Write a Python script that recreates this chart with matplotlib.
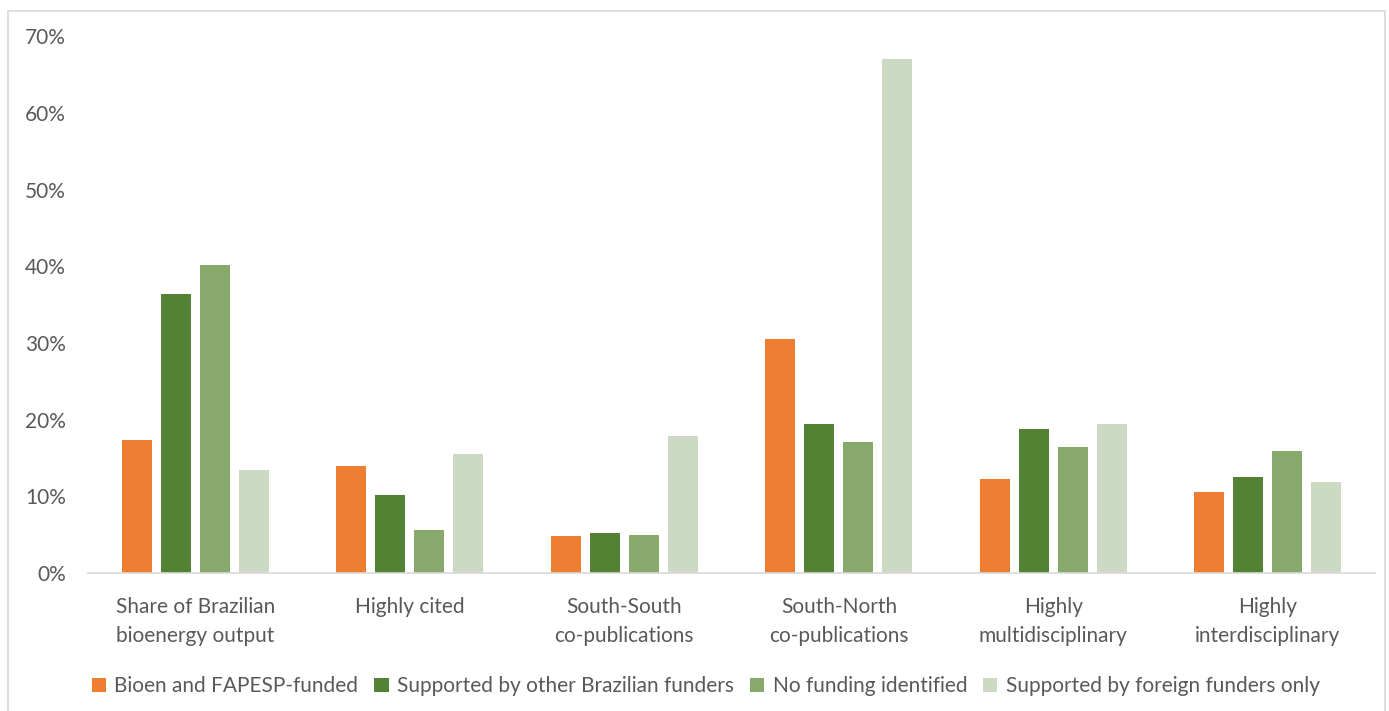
import numpy as np
import matplotlib.pyplot as plt
from matplotlib.patches import Rectangle
from matplotlib.ticker import PercentFormatter

plt.rcParams['font.family'] = ['Lato', 'DejaVu Sans']

categories = ["Share of Brazilian\nbioenergy output", "Highly cited",
              "South-South\nco-publications", "South-North\nco-publications",
              "Highly\nmultidisciplinary", "Highly\ninterdisciplinary"]
series_names = ["Bioen and FAPESP-funded", "Supported by other Brazilian funders",
                "No funding identified", "Supported by foreign funders only"]
bioen = [17.3, 13.9, 4.8, 30.5, 12.3, 10.6]
other_br = [36.4, 10.2, 5.2, 19.4, 18.8, 12.5]
no_funding = [40.2, 5.6, 5.0, 17.1, 16.4, 15.9]
foreign = [13.4, 15.5, 17.9, 67.1, 19.4, 11.9]
colors = ["#ED7D31", "#548235", "#87A96B", "#CCDAC3"]

text_color = "#595959"
fs = 15

fig = plt.figure(figsize=(13.89, 7.11), dpi=100)
ax = fig.add_axes([0.0634, 0.194, 0.9266, 0.755])

x = np.arange(len(categories))
width = 0.14
step = 0.182
for i, (vals, name) in enumerate(zip([bioen, other_br, no_funding, foreign], series_names)):
    ax.bar(x + (i - 1.5) * step, vals, width, color=colors[i], label=name, zorder=2)

ax.set_xlim(-0.5, len(categories) - 0.5)
ax.set_ylim(0, 70)
ax.set_yticks(np.arange(0, 71, 10))
ax.yaxis.set_major_formatter(PercentFormatter(decimals=0))
ax.set_xticks(x)
ax.set_xticklabels(categories, linespacing=1.6)

for s in ["top", "right", "left"]:
    ax.spines[s].set_visible(False)
ax.spines["bottom"].set_color("#D9D9D9")
ax.spines["bottom"].set_linewidth(1.2)
ax.tick_params(axis="both", length=0, colors=text_color, labelsize=fs)
ax.tick_params(axis="x", pad=17)
ax.tick_params(axis="y", pad=16)

leg = fig.legend(loc="center", bbox_to_anchor=(0.508, 0.035), ncol=4, frameon=False,
                 fontsize=fs, handlelength=0.7, handleheight=0.7,
                 handletextpad=0.4, columnspacing=0.75)
for t in leg.get_texts():
    t.set_color(text_color)

# light frame around the whole chart
fig.patches.append(Rectangle((8 / 1389, -0.01), 1 - 12 / 1389, 1 - 11 / 711 + 0.01,
                             transform=fig.transFigure, fill=False,
                             edgecolor="#D9D9D9", linewidth=1.2))

fig.savefig("out.png", dpi=100)
